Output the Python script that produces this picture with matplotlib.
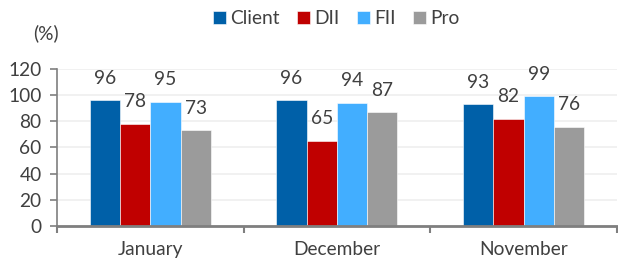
import matplotlib.pyplot as plt
import numpy as np

# Data
months = ['January', 'December', 'November']
series = ['Client', 'DII', 'FII', 'Pro']
client = [96, 96, 93]
dii = [78, 65, 82]
fii = [95, 94, 99]
pro = [73, 87, 76]

# Styles
colours = ['#0060A8', '#C00000', '#42AEFF', '#9B9B9B']
textColour = '#404040'
fsize = 13.8
plt.rcParams['font.family'] = ['Lato', 'DejaVu Sans']
plt.rcParams['font.size'] = fsize

fig = plt.figure(figsize=(6.18, 2.64), dpi=100)
ax = fig.add_axes([0.0922, 0.144, 0.906, 0.595])

x = np.arange(len(months))
w = 0.162
for j, (name, vals) in enumerate(zip(series, [client, dii, fii, pro])):
    pos = x + (j - 1.5) * w
    ax.bar(pos, vals, width=w, color=colours[j], label=name,
           edgecolor='white', linewidth=0.4, zorder=3)
    for px, v in zip(pos, vals):
        ax.annotate(str(v), (px, v), xytext=(0, 15.8), textcoords='offset points',
                    ha='center', va='center', color=textColour, fontsize=fsize)

ax.set_xlim(-0.5, 2.5)
ax.set_ylim(0, 120)
ax.set_yticks(range(0, 121, 20))
ax.grid(axis='y', color='#EFEFEF', linewidth=1.2, zorder=0)

ax.set_xticks(x)
ax.set_xticklabels(months)
ax.set_xticks([-0.5, 0.5, 1.5, 2.5], minor=True)
ax.tick_params(axis='x', which='major', length=0, pad=11, colors=textColour)
ax.tick_params(axis='x', which='minor', length=5, width=1.5, color='#7F7F7F')
ax.tick_params(axis='y', length=5, width=1.2, color='#7F7F7F', pad=6)
for label in ax.get_yticklabels():
    label.set_color(textColour)

for s in ['top', 'right']:
    ax.spines[s].set_visible(False)
ax.spines['left'].set_color('#7F7F7F')
ax.spines['left'].set_linewidth(1.2)
ax.spines['bottom'].set_color('#7F7F7F')
ax.spines['bottom'].set_linewidth(2)
ax.spines['bottom'].set_zorder(4)

fig.text(0.054, 0.875, '(%)', color=textColour, fontsize=fsize, ha='left', va='center')

fig.legend(loc='center', bbox_to_anchor=(0.544, 0.93), ncol=4, frameon=False,
           handlelength=0.7, handleheight=0.7, handletextpad=0.2, columnspacing=0.9,
           labelcolor=textColour, fontsize=fsize)

plt.savefig('out.png', dpi=100)
